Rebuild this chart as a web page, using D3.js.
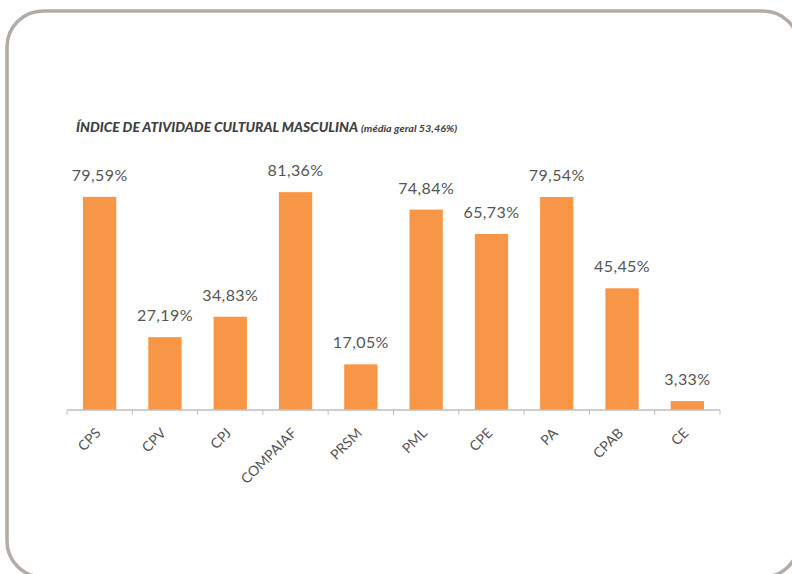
<!DOCTYPE html>
<html>
<head>
<meta charset="utf-8">
<script src="https://cdn.jsdelivr.net/npm/d3@7"></script>
<style>
  body { margin: 0; background: #fff; }
  svg { display: block; }
</style>
</head>
<body>
<script>
(function() {

  const width = 792;
  const height = 574;

  // chart data
  const categories = ["CPS", "CPV", "CPJ", "COMPAIAF", "PRSM", "PML", "CPE", "PA", "CPAB", "CE"];
  const values = [79.59, 27.19, 34.83, 81.36, 17.05, 74.84, 65.73, 79.54, 45.45, 3.33];
  const valueLabels = ["79,59%", "27,19%", "34,83%", "81,36%", "17,05%", "74,84%", "65,73%", "79,54%", "45,45%", "3,33%"];
  const titleMain = "ÍNDICE DE ATIVIDADE CULTURAL MASCULINA";
  const titleSub = "(média geral 53,46%)";

  let svg = d3.select("body").append("svg")
    .attr("width", width)
    .attr("height", height);

  // rounded frame
  svg.append("rect")
    .attr("x", 7)
    .attr("y", 11)
    .attr("width", 792)
    .attr("height", 566)
    .attr("rx", 36)
    .attr("ry", 36)
    .style("fill", "#fff")
    .style("stroke", "#b3aba5")
    .style("stroke-width", 3.5);

  // scales
  let x = d3.scaleBand()
    .domain(categories)
    .range([67, 720])
    .paddingInner(0.49)
    .paddingOuter(0.245);

  let y = d3.scaleLinear()
    .domain([0, 90])
    .range([410, 169]);

  // title
  let title = svg.append("text")
    .attr("x", 76)
    .attr("y", 132)
    .style("font-family", "Lato, 'Open Sans', sans-serif")
    .style("font-weight", "900")
    .style("font-style", "italic")
    .style("fill", "#404040");
  title.append("tspan")
    .style("font-size", "13px")
    .attr("textLength", 282)
    .attr("lengthAdjust", "spacingAndGlyphs")
    .text(titleMain);
  title.append("tspan")
    .attr("dx", 3)
    .style("font-size", "9px")
    .style("font-weight", "bold")
    .attr("textLength", 96)
    .attr("lengthAdjust", "spacingAndGlyphs")
    .text(titleSub);

  // bars
  svg.selectAll(".bar")
    .data(values)
    .enter()
    .append("rect")
    .attr("class", "bar")
    .attr("x", (d, i) => x(categories[i]))
    .attr("y", d => y(d))
    .attr("width", x.bandwidth())
    .attr("height", d => y(0) - y(d))
    .style("fill", "#F79646");

  // value labels
  svg.selectAll(".val")
    .data(values)
    .enter()
    .append("text")
    .attr("class", "val")
    .attr("x", (d, i) => x(categories[i]) + x.bandwidth() / 2)
    .attr("y", d => y(d) - 16)
    .attr("text-anchor", "middle")
    .style("font-family", "Lato, 'Open Sans', sans-serif")
    .style("font-size", "16px")
    .style("letter-spacing", "0.4px")
    .style("fill", "#555")
    .text((d, i) => valueLabels[i]);

  // x axis
  let xAxis = svg.append("g")
    .attr("transform", "translate(0," + y(0) + ")");
  xAxis.append("line")
    .attr("x1", 67)
    .attr("x2", 720)
    .style("stroke", "#bfbfbf")
    .style("stroke-width", 1.5);
  let step = x.step();
  xAxis.selectAll(".tick")
    .data(d3.range(categories.length + 1))
    .enter()
    .append("line")
    .attr("class", "tick")
    .attr("x1", d => 67 + d * step)
    .attr("x2", d => 67 + d * step)
    .attr("y1", 0)
    .attr("y2", 5)
    .style("stroke", "#bfbfbf")
    .style("stroke-width", 1);

  // category labels, rotated
  svg.selectAll(".cat")
    .data(categories)
    .enter()
    .append("text")
    .attr("class", "cat")
    .attr("text-anchor", "end")
    .attr("transform", d => "translate(" + (x(d) + x.bandwidth() / 2 + 2) + "," + (y(0) + 24) + ")rotate(-45)")
    .style("font-family", "Lato, 'Open Sans', sans-serif")
    .style("font-size", "14px")
    .style("fill", "#555")
    .text(d => d);

})();
</script>
</body>
</html>
